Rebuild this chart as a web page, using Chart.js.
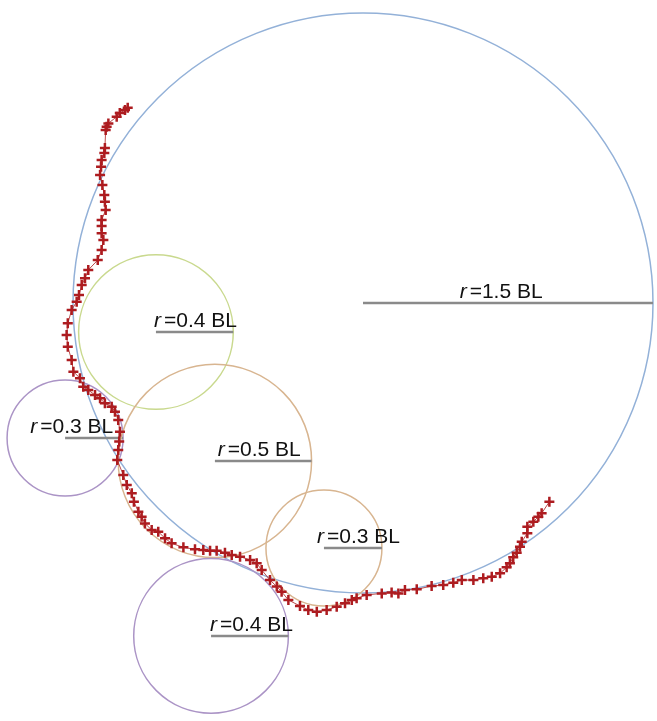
<!DOCTYPE html>
<html>
<head>
<meta charset="utf-8">
<script src="https://cdn.jsdelivr.net/npm/chart.js@4"></script>
<style>
  html, body { margin: 0; padding: 0; background: #fff; }
  canvas { display: block; }
</style>
</head>
<body>
<canvas id="pathChart" width="657" height="721"></canvas>
<script>
// swimming path, in body lengths (BL); origin at the centre of the big circle
const trackX = [
  -1.217, -1.231, -1.258, -1.274, -1.317, -1.326, -1.331, -1.335, -1.338, -1.352,
  -1.355, -1.360, -1.348, -1.338, -1.335, -1.331, -1.352, -1.352, -1.352, -1.343,
  -1.352, -1.372, -1.421, -1.438, -1.455, -1.469, -1.481, -1.507, -1.527, -1.533,
  -1.527, -1.507, -1.498, -1.464, -1.447, -1.421, -1.386, -1.360, -1.335, -1.300,
  -1.283, -1.266, -1.257, -1.261, -1.266, -1.271, -1.240, -1.222, -1.196, -1.185,
  -1.162, -1.145, -1.128, -1.093, -1.059, -1.024, -0.990, -0.929, -0.869, -0.826,
  -0.791, -0.757, -0.714, -0.679, -0.636, -0.584, -0.550, -0.524, -0.481, -0.446,
  -0.421, -0.386, -0.326, -0.283, -0.239, -0.188, -0.136, -0.093, -0.058, -0.033,
  0.019, 0.097, 0.148, 0.183, 0.217, 0.278, 0.355, 0.415, 0.467, 0.511,
  0.571, 0.622, 0.666, 0.709, 0.743, 0.760, 0.777, 0.795, 0.812, 0.821,
  0.850, 0.850, 0.881, 0.907, 0.924, 0.964
];
const trackY = [
  1.010, 0.998, 0.983, 0.964, 0.929, 0.912, 0.895, 0.802, 0.776, 0.740,
  0.705, 0.662, 0.610, 0.559, 0.524, 0.481, 0.429, 0.398, 0.361, 0.326,
  0.274, 0.222, 0.171, 0.128, 0.093, 0.041, 0.007, -0.036, -0.105, -0.166,
  -0.226, -0.295, -0.355, -0.389, -0.433, -0.450, -0.476, -0.493, -0.519, -0.536,
  -0.562, -0.605, -0.666, -0.717, -0.760, -0.812, -0.890, -0.941, -0.984, -1.028,
  -1.080, -1.105, -1.140, -1.174, -1.183, -1.217, -1.243, -1.264, -1.274, -1.278,
  -1.281, -1.281, -1.292, -1.303, -1.312, -1.329, -1.346, -1.381, -1.433, -1.467,
  -1.493, -1.536, -1.567, -1.588, -1.597, -1.588, -1.571, -1.553, -1.536, -1.527,
  -1.510, -1.502, -1.498, -1.502, -1.485, -1.481, -1.464, -1.459, -1.447, -1.433,
  -1.433, -1.424, -1.416, -1.398, -1.367, -1.346, -1.315, -1.292, -1.261, -1.235,
  -1.191, -1.157, -1.131, -1.105, -1.088, -1.028
];

// fitted turning circles (centre and radius, BL)
const circleX = [0, -1.071, -1.541, -0.766, -0.202, -0.786];
const circleY = [0, -0.150, -0.698, -0.817, -1.267, -1.722];
const circleR = [1.5, 0.4, 0.3, 0.5, 0.3, 0.4];

const circleColors = ['#93b1d8', '#c9d98e', '#ab94c6', '#d8b590', '#d8b590', '#ab94c6'];
// where each label starts, measured from its circle centre (BL)
const labelDx = [0.50, -0.01, -0.18, 0.015, -0.036, -0.005];

const turnCircles = {
    id: 'turnCircles',
    beforeDatasetsDraw(chart) {
        const { ctx, scales: { x, y } } = chart;
        ctx.save();
        circleR.forEach((r, i) => {
            const cx = x.getPixelForValue(circleX[i]);
            const cy = y.getPixelForValue(circleY[i]);
            const rp = x.getPixelForValue(circleX[i] + r) - cx;

            ctx.beginPath();
            ctx.arc(cx, cy, rp, 0, Math.PI * 2);
            ctx.strokeStyle = circleColors[i];
            ctx.lineWidth = 1.5;
            ctx.stroke();

            // radius bar
            ctx.beginPath();
            ctx.moveTo(cx, cy);
            ctx.lineTo(cx + rp, cy);
            ctx.strokeStyle = '#8a8a8a';
            ctx.lineWidth = 2.5;
            ctx.stroke();

            const lx = x.getPixelForValue(circleX[i] + labelDx[i]);
            ctx.fillStyle = '#111';
            ctx.textBaseline = 'alphabetic';
            ctx.font = 'italic 21px "Liberation Sans", Arial, sans-serif';
            ctx.fillText('r', lx, cy - 5);
            const w = ctx.measureText('r').width;
            ctx.font = '21px "Liberation Sans", Arial, sans-serif';
            ctx.fillText('=' + r + ' BL', lx + w + 3, cy - 5);
        });
        ctx.restore();
    }
};

new Chart(document.getElementById('pathChart'), {
    type: 'scatter',
    data: {
        datasets: [{
            data: trackX.map((v, i) => ({ x: v, y: trackY[i] })),
            showLine: true,
            borderColor: 'rgba(170, 30, 30, 0.8)',
            borderWidth: 1,
            pointStyle: 'cross',
            pointRadius: 5,
            pointBorderWidth: 2.5,
            pointBorderColor: '#ad1c20',
            pointBackgroundColor: '#ad1c20'
        }]
    },
    options: {
        responsive: false,
        animation: false,
        layout: { padding: 0, autoPadding: false },
        plugins: {
            legend: { display: false },
            tooltip: { enabled: false }
        },
        scales: {
            x: { type: 'linear', display: false, min: -1.8776, max: 1.5207 },
            y: { type: 'linear', display: false, min: -2.1621, max: 1.5673 }
        }
    },
    plugins: [turnCircles]
});
</script>
</body>
</html>
